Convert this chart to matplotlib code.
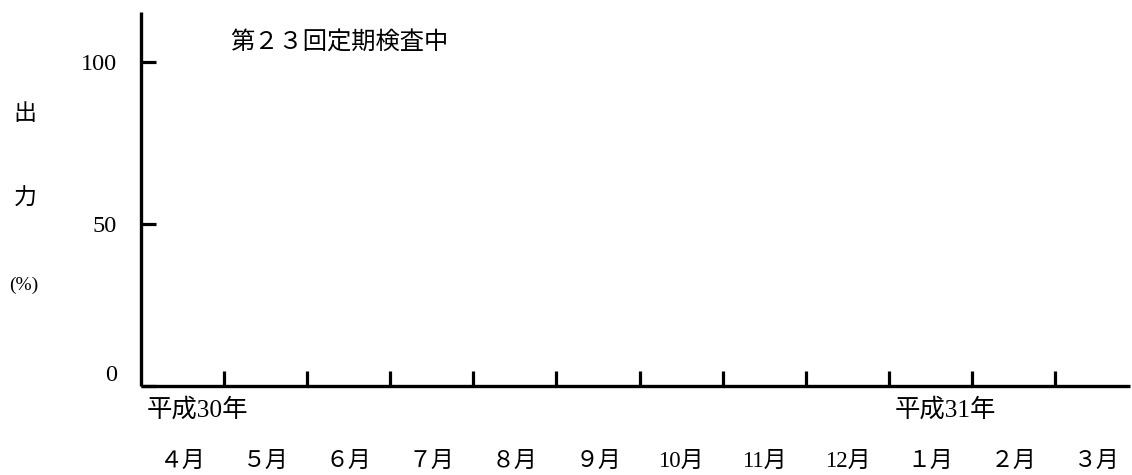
import matplotlib
matplotlib.use("Agg")
import matplotlib.pyplot as plt

plt.rcParams['font.family'] = ['Liberation Serif', 'Noto Sans CJK JP', 'DejaVu Sans']

# Fiscal year months (Apr 2018 - Mar 2019)
months = ["４月", "５月", "６月", "７月", "８月", "９月",
          "10月", "11月", "12月", "１月", "２月", "３月"]
year_labels = ["平成30年", "平成31年"]
year_start_idx = [0, 9]
y_ticks = [0, 50, 100]
note = "第２３回定期検査中"

fig = plt.figure(figsize=(11.32, 4.75), dpi=100)
ax = fig.add_axes([0.1244, 0.1884, 0.8739, 0.7863])

ax.set_xlim(0, 11.9)
ax.set_ylim(0, 115.5)

for side in ["top", "right"]:
    ax.spines[side].set_visible(False)
for side in ["left", "bottom"]:
    ax.spines[side].set_linewidth(2.4)
    ax.spines[side].set_capstyle("butt")

# Month boundaries as inward ticks
ax.set_xticks(range(1, len(months)))
ax.set_xticklabels([])
ax.tick_params(axis="x", direction="in", length=11, width=2.3)

ax.set_yticks(y_ticks)
ax.set_yticklabels([str(v) for v in y_ticks], fontsize=17.5)
ax.tick_params(axis="y", direction="in", length=11, width=2.3, pad=17)
ax.get_yticklabels()[0].set_verticalalignment("bottom")

# Month labels centred in each month
tr = ax.get_xaxis_transform()
for i, m in enumerate(months):
    ax.text(i + 0.5, -0.202, m, transform=tr, ha="center", va="center",
            fontsize=16.5)

# Year labels at the start of each year
for x0, lab in zip(year_start_idx, year_labels):
    ax.text(x0 + 0.07, -0.0656, lab, transform=tr, ha="left", va="center",
            fontsize=18.3)

# Note at the top
fig.text(230 / 1132, 1 - 43 / 475, note, ha="left", va="center", fontsize=17.5)

# Vertical y-axis label
fig.text(25 / 1132, 1 - 114 / 475, "出", ha="center", va="center", fontsize=16.5)
fig.text(25 / 1132, 1 - 199 / 475, "力", ha="center", va="center", fontsize=16.5)
fig.text(24 / 1132, 1 - 285 / 475, "(%)", ha="center", va="center", fontsize=14)

fig.savefig("out.png", dpi=100)
